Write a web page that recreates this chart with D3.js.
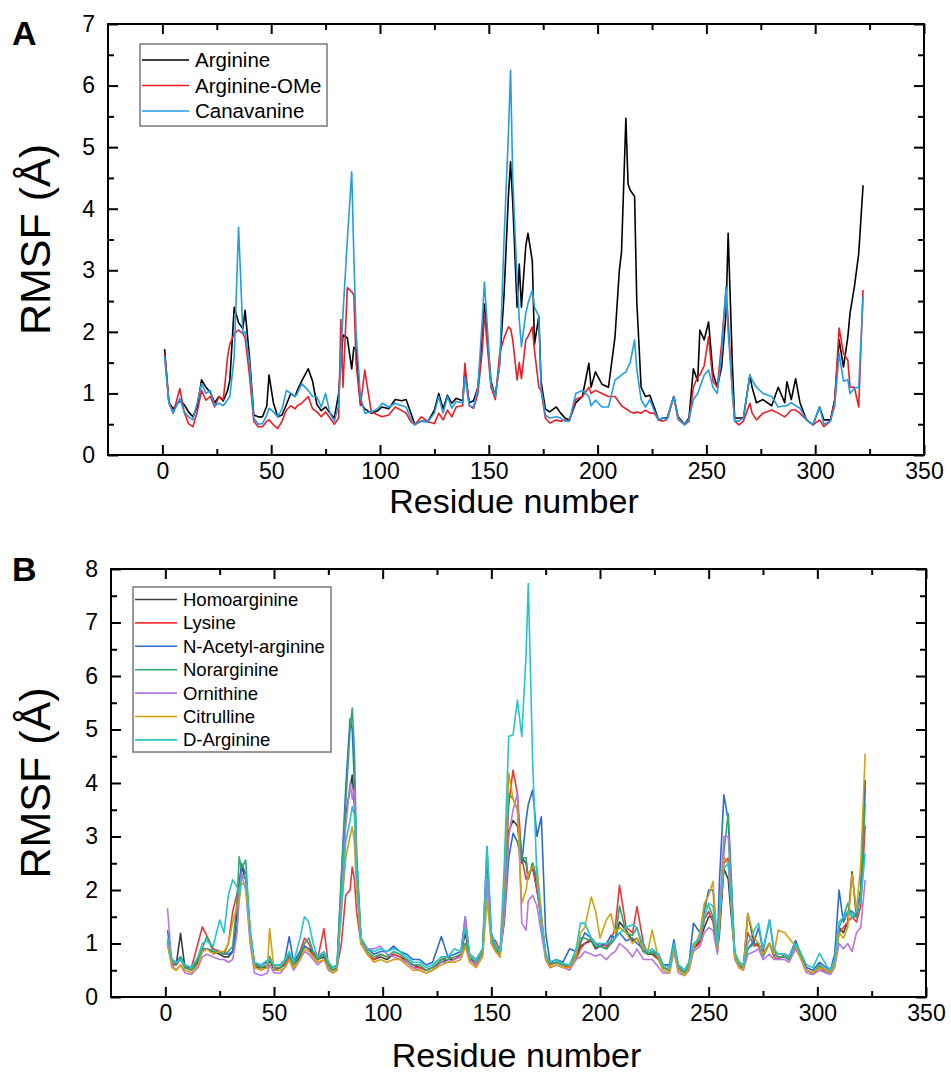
<!DOCTYPE html>
<html>
<head>
<meta charset="utf-8">
<script src="https://cdn.jsdelivr.net/npm/d3@7"></script>
<style>
  body { margin: 0; background: #fff; }
  svg text { font-family: "Liberation Sans", Arial, sans-serif; fill: #000; }
</style>
</head>
<body>
<div id="viz"></div>
<script>
// ---- panel A data (residue grid + RMSF values) ----
var resA = [1,3,5,8,10,12,14,16,18,20,22,24,26,28,30,31,33,35,37,38,
  40,42,44,46,48,49,51,53,55,57,59,61,62,64,67,69,71,73,75,77,
  79,81,82,83,85,87,88,89,91,93,96,99,101,104,107,110,112,114,116,119,
  122,125,127,129,131,133,135,138,139,141,143,145,147,148,151,153,155,157,159,160,
  161,163,164,165,167,168,170,171,173,174,176,178,181,183,185,187,190,193,196,197,
  199,202,205,208,210,211,213,214,215,217,218,220,222,224,226,228,230,232,235,237,
  240,242,244,246,247,249,251,253,255,257,259,260,262,263,265,267,270,271,273,276,
  280,283,286,287,289,291,293,296,299,302,304,307,309,311,313,315,316,318,320,322];

var arginine = [1.72,0.85,0.75,0.88,0.82,0.7,0.62,0.78,1.22,1.1,
  1.02,0.85,0.95,0.88,1.05,1.22,2.4,2.15,2.05,2.35,
  1.6,0.65,0.62,0.62,0.8,1.3,0.85,0.62,0.65,0.82,
  1.0,0.95,1.05,1.2,1.4,1.2,0.82,0.72,0.78,0.68,
  0.6,1.0,1.5,1.95,1.9,1.4,1.75,1.72,0.85,0.75,
  0.68,0.72,0.78,0.75,0.9,0.88,0.9,0.7,0.5,0.55,
  0.54,0.73,1.0,0.75,0.97,0.84,0.92,0.88,1.35,0.85,
  0.88,1.1,1.9,2.45,1.2,0.95,1.5,2.6,4.2,4.76,
  4.1,2.4,3.1,2.4,3.4,3.6,3.15,1.8,2.25,1.2,
  0.75,0.7,0.78,0.68,0.6,0.57,0.85,0.95,1.49,1.1,
  1.35,1.15,1.1,1.92,3.0,3.3,5.47,4.4,4.3,4.2,
  2.5,1.1,0.95,0.97,0.78,0.57,0.6,0.6,0.95,0.62,
  0.5,0.6,1.4,1.2,2.03,1.87,2.16,1.33,1.1,1.43,
  2.3,3.6,1.4,0.6,0.6,0.6,1.3,1.1,0.85,0.9,
  0.8,1.1,0.85,1.19,0.9,1.24,0.85,0.57,0.49,0.78,
  0.57,0.57,0.9,1.87,1.43,1.92,2.3,2.73,3.27,4.38];

var arginineOMe = [1.65,0.85,0.68,1.08,0.7,0.51,0.46,0.7,1.05,0.89,
  0.95,0.78,0.95,0.9,1.6,1.8,1.97,2.03,1.97,1.9,
  1.3,0.55,0.46,0.46,0.55,0.57,0.49,0.43,0.55,0.73,
  0.8,0.75,0.8,0.84,0.95,0.75,0.7,0.62,0.7,0.6,
  0.5,0.6,2.2,1.1,2.72,2.65,2.6,1.5,0.8,1.38,
  0.7,0.65,0.62,0.65,0.78,0.72,0.68,0.55,0.49,0.62,
  0.54,0.51,0.68,0.57,0.73,0.62,0.78,0.8,1.49,0.8,
  0.76,1.0,1.7,2.3,1.1,0.9,1.65,1.9,2.08,2.05,
  1.87,1.22,1.5,1.24,1.87,1.92,2.08,1.7,1.1,1.05,
  0.6,0.52,0.57,0.55,0.57,0.55,0.9,0.95,1.1,1.0,
  1.05,1.0,0.95,0.95,0.85,0.8,0.75,0.73,0.7,0.68,
  0.7,0.68,0.73,0.68,0.68,0.57,0.55,0.58,0.95,0.58,
  0.49,0.55,1.1,1.27,1.3,1.45,1.92,1.2,1.1,1.81,
  2.68,2.2,1.0,0.55,0.49,0.55,0.84,0.68,0.57,0.68,
  0.73,0.68,0.62,0.65,0.73,0.73,0.68,0.57,0.49,0.57,
  0.46,0.55,0.9,2.06,1.65,1.54,1.1,1.1,0.78,2.68];

var canavanine = [1.6,0.85,0.68,0.92,0.7,0.62,0.57,0.85,1.16,1.0,
  1.05,0.8,0.84,0.8,0.9,0.95,1.6,3.7,1.97,2.0,
  1.5,0.6,0.5,0.51,0.65,0.76,0.7,0.62,0.75,1.05,
  1.0,0.95,1.0,1.16,1.05,0.95,0.95,0.78,1.0,0.68,
  0.55,0.8,1.6,2.3,3.5,4.6,3.2,2.0,0.95,0.68,
  0.7,0.75,0.84,0.78,0.84,0.8,0.78,0.6,0.49,0.55,
  0.54,0.68,0.95,0.68,0.95,0.76,0.87,0.85,1.27,0.8,
  0.78,1.1,2.2,2.81,1.15,0.95,1.45,3.5,5.2,6.25,
  4.5,2.84,2.2,1.76,2.3,2.46,2.68,2.4,2.25,1.1,
  0.65,0.6,0.62,0.6,0.55,0.55,1.0,1.05,0.95,0.8,
  0.89,0.78,0.78,1.22,1.27,1.3,1.35,1.43,1.5,1.87,
  1.4,0.9,0.78,0.9,0.72,0.57,0.6,0.58,0.95,0.6,
  0.49,0.58,0.9,1.0,1.1,1.3,1.38,1.1,1.0,1.65,
  2.73,2.0,1.0,0.55,0.55,0.6,1.3,1.22,1.1,1.0,
  0.95,0.78,0.8,0.8,0.85,0.8,0.76,0.57,0.49,0.78,
  0.5,0.55,0.8,1.65,1.2,1.22,1.0,1.08,1.1,2.57];

var seriesA = ["Arginine", "Arginine-OMe", "Canavanine"];
var colorsA = ["#000000", "#ee1c24", "#1f9de6"];

// ---- panel B data ----
var resB = [1,3,5,7,9,12,15,17,19,22,25,27,29,31,33,34,35,37,39,41,
  44,47,48,50,53,55,57,59,62,64,66,68,70,73,75,77,79,81,83,85,
  86,87,88,90,93,96,99,102,105,108,111,114,117,120,123,127,130,133,136,138,
  140,143,146,148,150,152,154,156,158,160,162,164,166,167,169,171,173,175,177,180,
  183,186,189,191,193,196,198,200,203,205,207,209,212,215,217,220,222,224,227,229,
  232,234,236,239,241,243,246,248,250,252,254,255,257,259,260,262,264,266,268,271,
  273,275,278,280,282,285,287,290,292,295,298,301,304,306,308,310,312,314,316,318,
  320,322];

var homoarginine = [1.0,0.65,0.6,1.19,0.55,0.5,0.65,0.85,0.9,0.85,
  0.8,0.75,0.75,0.85,1.6,2.1,2.45,2.2,1.1,0.55,
  0.55,0.55,0.7,0.5,0.55,0.6,0.75,0.6,0.75,0.95,
  0.9,0.8,0.7,0.75,0.55,0.5,0.55,1.9,3.4,3.9,
  4.15,3.6,2.3,1.1,0.8,0.7,0.75,0.7,0.8,0.75,
  0.7,0.6,0.55,0.5,0.55,0.65,0.7,0.7,0.8,1.2,
  0.75,0.6,0.8,2.4,1.1,0.9,0.8,1.5,3.1,3.3,
  3.2,2.6,2.5,2.2,2.5,2.0,1.5,0.8,0.62,0.65,
  0.6,0.55,0.75,0.95,1.0,1.05,0.9,0.95,0.9,1.0,
  1.1,1.4,1.25,1.05,1.1,0.85,0.8,0.8,0.7,0.55,
  0.5,0.95,0.55,0.45,0.55,0.9,1.05,1.3,1.5,1.5,
  0.85,1.2,2.4,2.2,1.7,0.8,0.6,0.55,1.56,1.0,
  0.95,0.8,1.0,0.8,0.75,0.75,0.7,1.05,0.8,0.5,
  0.45,0.55,0.5,0.45,0.6,1.3,1.2,1.4,2.34,1.5,
  2.0,4.05];

var lysine = [1.0,0.6,0.6,0.7,0.55,0.55,1.0,1.31,1.15,0.9,
  0.85,0.8,1.0,1.6,1.94,2.1,2.3,2.2,1.2,0.6,
  0.55,0.6,0.75,0.55,0.55,0.6,0.75,0.6,0.85,1.1,
  1.0,0.8,0.7,1.28,0.6,0.5,0.55,1.0,1.9,2.0,
  2.43,2.2,1.6,1.0,0.8,0.7,0.8,0.75,0.8,0.75,
  0.65,0.55,0.55,0.5,0.55,0.7,0.75,0.7,0.8,1.0,
  0.7,0.6,0.85,2.2,1.1,1.05,0.85,1.8,3.6,4.24,
  3.8,2.6,2.2,2.3,2.4,2.0,1.4,0.8,0.6,0.65,
  0.6,0.55,0.7,0.9,1.0,1.1,1.0,1.0,0.95,1.05,
  1.3,2.09,1.3,1.2,1.69,1.0,0.8,0.85,0.7,0.55,
  0.5,0.9,0.55,0.45,0.55,0.9,1.0,1.45,1.6,1.4,
  0.85,1.3,2.5,2.6,2.0,0.8,0.55,0.55,1.2,0.95,
  1.0,0.8,1.0,0.75,0.7,0.8,0.75,0.95,0.8,0.5,
  0.45,0.55,0.45,0.45,0.6,1.2,1.3,1.4,1.5,1.4,
  1.7,3.2];

var nAcetylArginine = [1.25,0.7,0.65,0.75,0.6,0.55,0.7,0.9,0.9,0.85,
  0.85,0.8,0.8,0.85,1.3,1.9,2.5,2.3,1.2,0.6,
  0.6,0.65,0.7,0.6,0.6,0.7,1.13,0.65,0.85,0.95,
  0.9,0.85,0.75,0.8,0.65,0.55,0.6,2.25,3.9,5.2,
  5.0,4.0,2.6,1.1,0.9,0.8,0.85,0.85,0.95,0.85,
  0.8,0.7,0.7,0.6,0.65,1.13,0.75,0.8,0.85,1.5,
  0.8,0.7,0.9,2.81,1.2,0.95,0.85,1.4,2.6,3.06,
  2.9,2.5,3.31,3.6,3.87,3.0,3.37,1.2,0.65,0.7,
  0.65,0.9,0.85,1.0,1.2,1.1,1.0,0.95,1.0,1.15,
  1.1,1.2,1.05,1.1,1.0,0.9,0.8,0.85,0.8,0.6,
  0.6,1.07,0.6,0.5,0.65,1.38,1.2,1.6,2.0,2.0,
  1.0,2.2,3.78,3.3,2.4,0.8,0.65,0.6,0.9,1.05,
  1.3,0.85,1.44,0.85,0.8,0.8,0.75,1.05,0.85,0.55,
  0.5,0.65,0.55,0.5,0.8,2.0,1.4,1.6,1.6,1.5,
  2.0,3.9];

var norarginine = [1.05,0.65,0.6,0.75,0.55,0.5,0.7,0.9,1.13,0.85,
  0.85,0.8,0.85,0.95,1.8,2.62,2.4,2.56,1.2,0.6,
  0.55,0.6,0.75,0.55,0.55,0.65,0.8,0.6,0.8,1.0,
  1.1,0.85,0.7,0.8,0.6,0.5,0.55,2.25,3.6,5.0,
  5.4,4.6,2.7,1.1,0.85,0.75,0.8,0.75,0.85,0.8,
  0.7,0.6,0.6,0.5,0.55,0.7,0.7,0.75,0.8,1.0,
  0.75,0.65,0.85,2.3,1.1,0.9,0.8,1.9,3.8,3.7,
  3.5,2.6,2.6,2.2,2.5,2.2,1.4,0.8,0.62,0.65,
  0.6,0.6,0.8,1.1,1.1,1.05,0.95,0.95,0.9,1.0,
  1.1,1.7,1.2,1.15,1.3,0.85,0.8,0.85,0.75,0.55,
  0.5,0.95,0.55,0.45,0.6,0.95,1.1,1.7,1.7,1.5,
  0.9,1.4,2.7,3.43,2.6,0.8,0.6,0.55,0.9,1.0,
  1.0,0.75,1.0,0.8,0.75,0.75,0.7,1.0,0.8,0.5,
  0.45,0.6,0.5,0.45,0.65,1.3,1.5,1.75,1.5,1.5,
  1.9,3.62];

var ornithine = [1.66,0.6,0.5,0.6,0.45,0.42,0.55,0.75,0.8,0.75,
  0.7,0.7,0.65,0.7,1.2,1.9,2.3,2.0,1.0,0.45,
  0.4,0.45,0.6,0.45,0.45,0.55,0.7,0.5,0.7,0.85,
  0.8,0.7,0.6,0.7,0.5,0.45,0.5,1.8,3.2,4.0,
  3.7,3.9,2.3,1.0,0.9,0.9,0.95,0.8,0.75,0.7,
  0.65,0.55,0.5,0.45,0.5,0.65,0.65,0.7,0.75,1.5,
  0.7,0.6,0.8,2.2,1.0,0.85,0.75,1.5,3.0,3.5,
  3.8,1.38,1.25,1.8,1.9,1.7,1.2,0.7,0.55,0.6,
  0.55,0.5,0.7,0.75,0.85,0.8,0.76,0.8,0.7,0.8,
  0.85,1.0,0.9,0.75,0.9,0.7,0.7,0.7,0.55,0.45,
  0.45,0.85,0.45,0.4,0.5,0.85,0.95,1.2,1.3,1.25,
  0.8,1.6,3.0,3.0,2.2,0.7,0.55,0.5,0.8,0.85,
  0.9,0.7,0.8,0.7,0.7,0.7,0.65,0.9,0.75,0.45,
  0.42,0.5,0.45,0.42,0.55,1.0,0.9,1.0,0.85,1.2,
  1.3,2.19];

var citrulline = [1.0,0.55,0.5,0.6,0.5,0.45,0.6,0.85,0.9,0.8,
  0.85,0.85,1.0,1.4,1.69,1.8,2.12,2.1,1.1,0.55,
  0.5,0.55,1.28,0.5,0.5,0.55,0.7,0.55,0.7,0.9,
  0.85,0.75,0.65,0.7,0.55,0.45,0.5,1.6,2.6,3.0,
  3.18,2.9,2.0,1.0,0.8,0.65,0.7,0.65,0.7,0.7,
  0.6,0.5,0.5,0.45,0.5,0.6,0.65,0.65,0.7,0.95,
  0.65,0.55,0.75,1.81,1.0,0.85,0.75,2.2,4.18,3.7,
  3.5,1.75,2.0,2.3,2.43,2.43,1.6,0.7,0.55,0.6,
  0.55,0.55,0.75,1.2,1.3,1.87,1.6,1.1,1.45,1.56,
  1.2,1.3,1.2,1.0,1.1,0.9,0.85,1.25,0.7,0.5,
  0.45,0.9,0.5,0.4,0.55,0.9,1.2,1.75,1.9,2.16,
  0.9,1.4,2.62,2.5,1.9,0.75,0.55,0.5,1.56,1.1,
  1.0,0.8,1.0,0.8,1.25,1.2,1.1,0.95,0.75,0.5,
  0.45,0.55,0.5,0.45,0.6,1.2,1.1,1.3,2.3,1.6,
  2.5,4.55];

var dArginine = [1.1,0.7,0.65,0.7,0.6,0.55,0.75,1.0,1.05,0.95,
  1.44,1.2,1.9,2.19,2.06,1.9,2.2,2.3,1.3,0.65,
  0.6,0.69,0.7,0.6,0.6,0.7,0.85,0.65,1.1,1.5,
  1.4,1.0,0.75,0.85,0.65,0.55,0.6,1.6,2.9,3.3,
  3.56,3.4,2.3,1.1,0.9,0.85,0.9,0.85,0.9,0.85,
  0.75,0.65,0.65,0.55,0.6,0.75,0.75,0.9,0.85,1.3,
  0.8,0.7,0.9,2.81,1.15,0.95,0.85,2.5,4.87,4.9,
  5.55,4.87,6.42,7.73,4.43,2.2,1.4,0.8,0.65,0.7,
  0.62,0.6,0.9,1.38,1.38,1.1,1.0,1.0,1.0,1.05,
  1.1,1.2,1.3,1.35,1.3,0.95,0.85,0.9,0.8,0.6,
  0.55,1.0,0.6,0.5,0.65,1.0,1.1,1.5,1.75,1.7,
  0.95,1.6,2.4,2.5,2.0,0.85,0.65,0.6,1.0,1.25,
  1.38,0.9,1.44,0.9,0.8,0.8,0.75,1.0,0.85,0.6,
  0.55,0.82,0.6,0.5,0.7,1.4,1.5,1.6,1.5,1.6,
  1.8,2.69];

var seriesB = ["Homoarginine", "Lysine", "N-Acetyl-arginine", "Norarginine", "Ornithine", "Citrulline", "D-Arginine"];
var colorsB = ["#3c3c3c", "#f0353b", "#2b6ad6", "#2fa96a", "#b676e2", "#d3a10f", "#25c5cc"];

var xTicks = [0, 50, 100, 150, 200, 250, 300, 350];
var xMinor = [25, 75, 125, 175, 225, 275, 325];

var svg = d3.select("#viz").append("svg")
    .attr("width", 951)
    .attr("height", 1077);

function drawPanel(p) {
    var x = d3.scaleLinear().domain([-25, 350]).range([p.left, p.right]);
    var y = d3.scaleLinear().domain([0, p.ymax]).range([p.bottom, p.top]);
    var yTicks = d3.range(0, p.ymax + 1);
    var yMinor = d3.range(0.5, p.ymax, 1);
    var g = svg.append("g");

    // clip for data
    g.append("clipPath").attr("id", "clip" + p.id)
      .append("rect")
      .attr("x", p.left).attr("y", p.top)
      .attr("width", p.right - p.left).attr("height", p.bottom - p.top);

    var line = d3.line()
        .x(function(d){ return x(d[0]); })
        .y(function(d){ return y(d[1]); });

    var lg = g.append("g").attr("clip-path", "url(#clip" + p.id + ")");
    for (var i = 0; i < p.values.length; i++) {
        var pts = p.res.map(function(r, k){ return [r, p.values[i][k]]; });
        lg.append("path")
          .datum(pts)
          .attr("d", line)
          .attr("fill", "none")
          .attr("stroke", p.colors[i])
          .attr("stroke-width", 1.6)
          .attr("stroke-linejoin", "round");
    }

    // axes: ticks point inward on all four sides
    function axis(gen, tx, ty, vals, size, labels) {
        var a = gen.tickValues(vals).tickSize(size).tickSizeOuter(0).tickPadding(8);
        if (!labels) a.tickFormat("");
        var ag = g.append("g").attr("transform", "translate(" + tx + "," + ty + ")").call(a);
        ag.select(".domain").remove();
        ag.selectAll("line").attr("stroke", "#000").attr("stroke-width", 2);
        ag.selectAll("text").style("font-size", "23px").attr("fill", "#000");
        return ag;
    }
    axis(d3.axisBottom(x), 0, p.bottom, xTicks, -10, true);
    axis(d3.axisBottom(x), 0, p.bottom, xMinor, -6, false);
    axis(d3.axisTop(x), 0, p.top, xTicks, -10, false);
    axis(d3.axisTop(x), 0, p.top, xMinor, -6, false);
    axis(d3.axisLeft(y).tickFormat(d3.format("d")), p.left, 0, yTicks, -10, true)
      .selectAll("text").attr("x", -13);
    axis(d3.axisLeft(y), p.left, 0, yMinor, -6, false);
    axis(d3.axisRight(y), p.right, 0, yTicks, -10, false);
    axis(d3.axisRight(y), p.right, 0, yMinor, -6, false);

    g.append("rect")
      .attr("x", p.left).attr("y", p.top)
      .attr("width", p.right - p.left).attr("height", p.bottom - p.top)
      .attr("fill", "none").attr("stroke", "#000").attr("stroke-width", 2);

    // titles
    g.append("text")
      .attr("x", (p.left + p.right) / 2 - 2)
      .attr("y", p.bottom + p.titleGap)
      .attr("text-anchor", "middle")
      .style("font-size", "34px")
      .text("Residue number");
    g.append("text")
      .attr("transform", "translate(50," + ((p.top + p.bottom) / 2) + ") rotate(-90)")
      .attr("text-anchor", "middle")
      .style("font-size", "43px")
      .text("RMSF (Å)");
    g.append("text")
      .attr("x", 12).attr("y", p.letterY)
      .style("font-size", "34px").style("font-weight", "bold")
      .text(p.id);

    // legend
    var L = p.legend;
    g.append("rect")
      .attr("x", L.x).attr("y", L.y).attr("width", L.w).attr("height", L.h)
      .attr("fill", "#fff").attr("stroke", "#777").attr("stroke-width", 1.5);
    p.names.forEach(function(name, i) {
        var cy = L.y + L.first + i * L.step;
        g.append("line")
          .attr("x1", L.x + 2).attr("x2", L.x + L.line)
          .attr("y1", cy).attr("y2", cy)
          .attr("stroke", p.colors[i]).attr("stroke-width", 1.6);
        g.append("text")
          .attr("x", L.x + L.line + 6).attr("y", cy)
          .attr("dy", "0.35em")
          .style("font-size", L.font + "px")
          .text(name);
    });
}

drawPanel({
    id: "A", left: 108, right: 924, top: 24, bottom: 455, ymax: 7,
    titleGap: 58, letterY: 45,
    res: resA, values: [arginine, arginineOMe, canavanine],
    names: seriesA, colors: colorsA,
    legend: { x: 140, y: 44, w: 187, h: 82, first: 16, step: 25.5, line: 49, font: 20.5 }
});

drawPanel({
    id: "B", left: 111, right: 926, top: 569, bottom: 997, ymax: 8,
    titleGap: 70, letterY: 581,
    res: resB, values: [homoarginine, lysine, nAcetylArginine, norarginine, ornithine, citrulline, dArginine],
    names: seriesB, colors: colorsB,
    legend: { x: 133, y: 587, w: 198, h: 165, first: 12.5, step: 23.4, line: 44, font: 18.5 }
});
</script>
</body>
</html>
